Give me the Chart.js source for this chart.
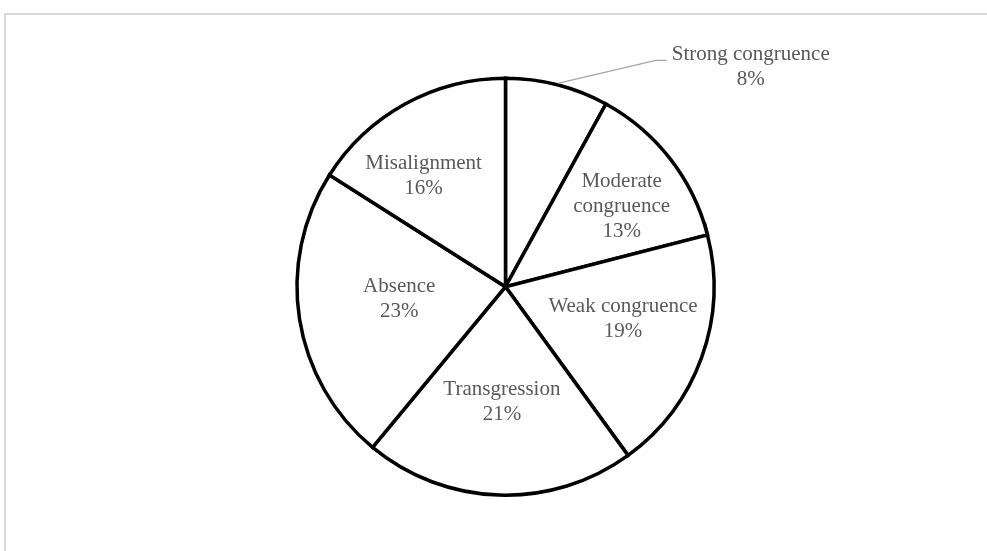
<!DOCTYPE html>
<html>
<head>
<meta charset="utf-8">
<script src="https://cdn.jsdelivr.net/npm/chart.js@4.4.1/dist/chart.umd.min.js"></script>
<style>
  html, body { margin: 0; padding: 0; background: #fff; }
  #wrap { position: relative; width: 987px; height: 551px; overflow: hidden; }
  #frame {
    position: absolute; left: 4px; top: 13px; width: 1100px; height: 700px;
    border: 2px solid #d9d9d9; box-sizing: border-box;
  }
  canvas { position: absolute; left: 0; top: 0; }
</style>
</head>
<body>
<div id="wrap">
  <div id="frame"></div>
  <canvas id="pieChart" width="987" height="551"></canvas>
</div>
<script>
// data
const categories = ['Strong congruence', 'Moderate congruence', 'Weak congruence', 'Transgression', 'Absence', 'Misalignment'];
const shares = [8, 13, 19, 21, 23, 16];

// label lines as they wrap in the picture
const labelLines = [
  ['Strong congruence'],
  ['Moderate', 'congruence'],
  ['Weak congruence'],
  ['Transgression'],
  ['Absence'],
  ['Misalignment']
];

// where each label sits: fraction of radius + angle nudge (deg); first one goes outside with a leader
const labelPlace = [
  { outside: true },
  { rf: 0.676, da: 3.3 },
  { rf: 0.585, da: -4.3 },
  { rf: 0.552, da: 0 },
  { rf: 0.513, da: 2.6 },
  { rf: 0.662, da: -7.6 }
];

const FONT = '21px "Liberation Serif", "Times New Roman", serif';
const LINE_H = 25;

/* ─────────────────────────────────────────────
 * LABEL PLUGIN
 * ───────────────────────────────────────────── */
const pieLabels = {
  id: 'pieLabels',
  afterDatasetsDraw(chart) {
    const ctx = chart.ctx;
    const meta = chart.getDatasetMeta(0);
    ctx.save();
    ctx.font = FONT;
    ctx.fillStyle = '#595959';
    ctx.textAlign = 'center';
    ctx.textBaseline = 'middle';

    meta.data.forEach((arc, i) => {
      const p = arc.getProps(['x', 'y', 'startAngle', 'endAngle', 'outerRadius'], true);
      const mid = (p.startAngle + p.endAngle) / 2;
      const pct = shares[i] + '%';
      const lines = labelLines[i].concat([pct]);
      const place = labelPlace[i];

      if (place.outside) {
        const ex = p.x + Math.cos(mid) * (p.outerRadius + 1.5);
        const ey = p.y + Math.sin(mid) * (p.outerRadius + 1.5);
        const bx = ex + 98, by = ey - 23;
        ctx.strokeStyle = '#a6a6a6';
        ctx.lineWidth = 1.3;
        ctx.beginPath();
        ctx.moveTo(ex, ey);
        ctx.lineTo(bx, by);
        ctx.lineTo(bx + 11, by);
        ctx.stroke();
        const tx = bx + 95, ty = by - 6;
        lines.forEach((ln, k) => ctx.fillText(ln, tx, ty + k * LINE_H));
        return;
      }

      const a = mid + place.da * Math.PI / 180;
      const cx = p.x + Math.cos(a) * p.outerRadius * place.rf;
      const cy = p.y + Math.sin(a) * p.outerRadius * place.rf;
      const top = cy - (lines.length - 1) * LINE_H / 2;
      lines.forEach((ln, k) => ctx.fillText(ln, cx, top + k * LINE_H));
    });
    ctx.restore();
  }
};

new Chart(document.getElementById('pieChart').getContext('2d'), {
  type: 'pie',
  data: {
    labels: categories,
    datasets: [{
      data: shares,
      backgroundColor: '#ffffff',
      borderColor: '#000000',
      borderWidth: 3.5,
      borderJoinStyle: 'miter',
      radius: 208.5
    }]
  },
  options: {
    responsive: false,
    animation: false,
    layout: { padding: { left: 24, right: 0, top: 22.4, bottom: 0 } },
    plugins: {
      legend: { display: false },
      tooltip: { enabled: false }
    }
  },
  plugins: [pieLabels]
});
</script>
</body>
</html>
